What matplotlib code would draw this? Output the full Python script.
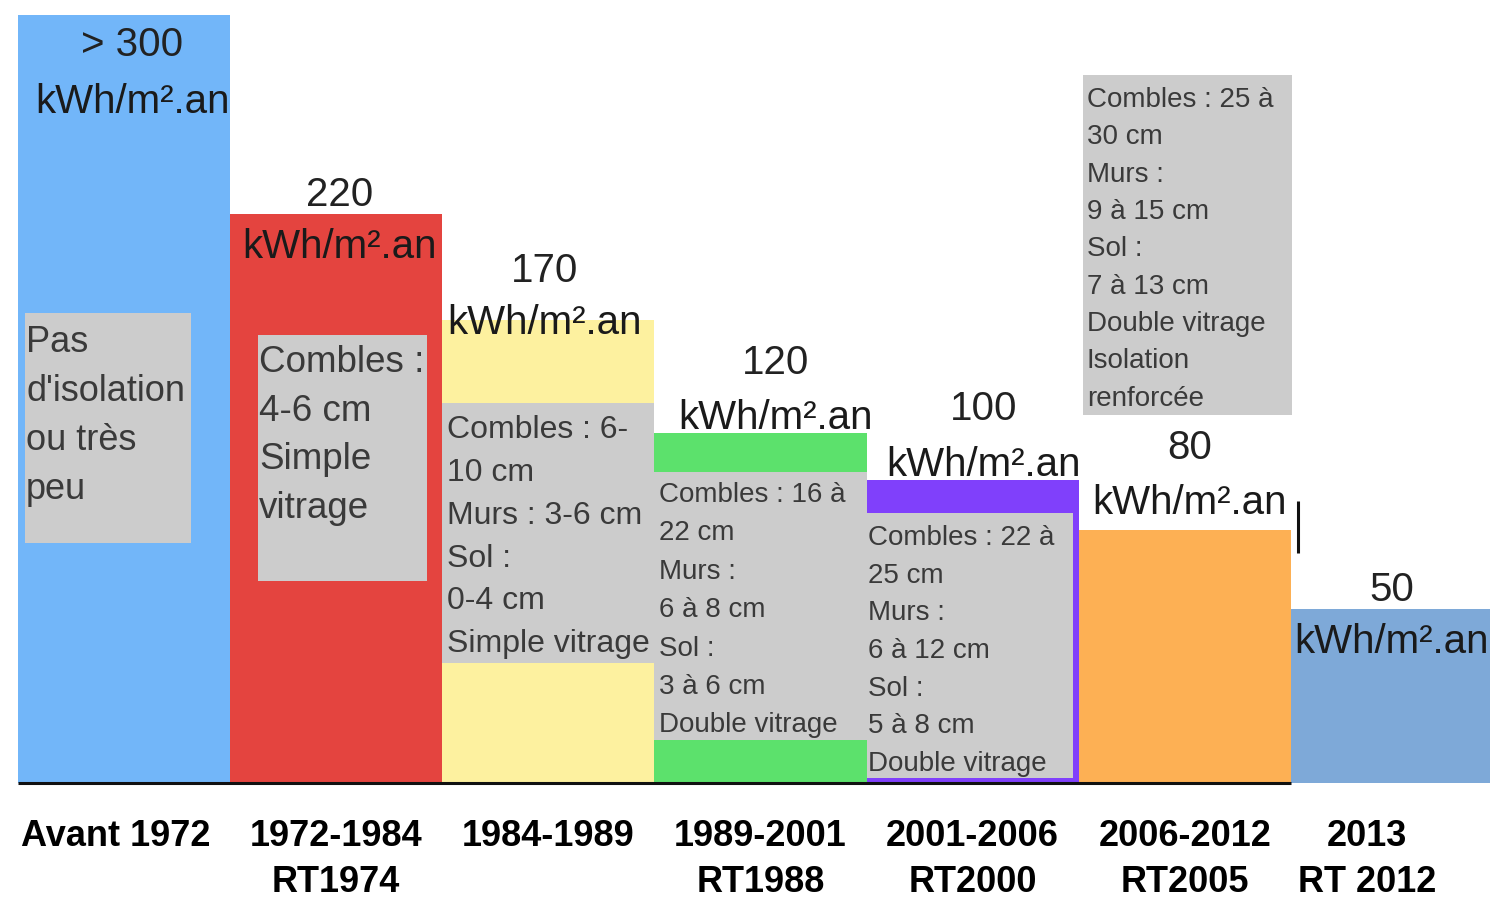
import numpy as np
import matplotlib
matplotlib.use("Agg")
import matplotlib.pyplot as plt
from matplotlib.patches import Rectangle
from matplotlib.transforms import ScaledTranslation

# consommation (kWh/m².an) par période de construction
periodes = ["Avant 1972", "1972-1984\nRT1974", "1984-1989", "1989-2001\nRT1988",
            "2001-2006\nRT2000", "2006-2012\nRT2005", "2013\nRT 2012"]
consommation = [320, 220, 170, 120, 100, 80, 50]
etiquettes = ["> 300", "220", "170", "120", "100", "80", "50"]
couleurs = ["#72b6f9", "#e4443f", "#fdf19f", "#5ce16c", "#8040fb", "#fdb054", "#7ea9d8"]

isolation = [
    ["Pas", "d'isolation", "ou très", "peu"],
    ["Combles :", "4-6 cm", "Simple", "vitrage"],
    ["Combles : 6-", "10 cm", "Murs : 3-6 cm", "Sol :", "0-4 cm", "Simple vitrage"],
    ["Combles : 16 à", "22 cm", "Murs :", "6 à 8 cm", "Sol :", "3 à 6 cm", "Double vitrage"],
    ["Combles : 22 à", "25 cm", "Murs :", "6 à 12 cm", "Sol :", "5 à 8 cm", "Double vitrage"],
    ["Combles : 25 à", "30 cm", "Murs :", "9 à 15 cm", "Sol :", "7 à 13 cm",
     "Double vitrage", "Isolation", "renforcée"],
]

plt.rcParams["font.family"] = ["Liberation Sans", "DejaVu Sans"]

gris = "#cccccc"
texte_gris = "#3a3a3a"

fig = plt.figure(figsize=(14.9, 9.02), dpi=100)
ax = fig.add_axes([18 / 1490, 119 / 902, 1485 / 1490, 768 / 902])

# échelle en puissance : les petites valeurs restent lisibles
ax.set_yscale("function", functions=(lambda v: np.power(np.clip(v, 0, None), 0.8),
                                     lambda v: np.power(np.clip(v, 0, None), 1.25)))
x = np.arange(len(periodes))
ax.bar(x, consommation, width=1.0, color=couleurs, edgecolor="none", zorder=1)
ax.set_xlim(-0.5, 6.5)
ax.set_ylim(0, 320)

# ligne de base sous les six premières barres
ax.hlines(0, -0.5, 5.5, color="#111111", lw=2.2, zorder=5, clip_on=False)

# valeurs au-dessus des barres (décalages en pixels)
dx = [8, 3, -4, 15, 11, 5, -5]
dy_val = [-41, 8, 38, 59, 60, 71, 8]
dy_unite = [-98, -44, -14, 4, 4, 16, -44]
for i, v in enumerate(consommation):
    ax.annotate(etiquettes[i], xy=(i, v), xytext=(dx[i], dy_val[i]), textcoords="offset pixels",
                ha="center", va="baseline", fontsize=29, color="#222222", zorder=6)
    ax.annotate("kWh/m².an", xy=(i, v), xytext=(dx[i], dy_unite[i]), textcoords="offset pixels",
                ha="center", va="baseline", fontsize=29, color="#1a1a1a", zorder=6)

trans = ax.get_xaxis_transform()


def boite(x0, x1, haut, bas, lignes, taille, xt, base, pas):
    ax.add_patch(Rectangle((x0, bas), x1 - x0, haut - bas, transform=trans,
                           facecolor=gris, edgecolor="none", zorder=3))
    for k, ligne in enumerate(lignes):
        ax.text(xt, base - k * pas, ligne, transform=trans, ha="left", va="baseline",
                fontsize=taille, color=texte_gris, zorder=4)


boite(-0.467, 0.315, 0.612, 0.3125, isolation[0], 26, -0.462, 0.561, 0.0638)
boite(0.631, 1.427, 0.583, 0.263, isolation[1], 26.5, 0.636, 0.535, 0.0632)
boite(1.5, 2.5, 0.495, 0.156, isolation[2], 23, 1.522, 0.449, 0.0557)
boite(2.5, 3.5, 0.405, 0.056, isolation[3], 20, 2.521, 0.366, 0.05)
boite(3.5, 4.472, 0.352, 0.0065, isolation[4], 20, 3.505, 0.310, 0.0491)
boite(4.519, 5.504, 0.922, 0.479, isolation[5], 20, 4.538, 0.880, 0.0486)

# curseur de saisie resté à droite de « kWh/m².an »
ax.vlines(5.533, 0.299, 0.367, transform=trans, color="#111111", lw=2.2, zorder=6)

ax.set_xticks(x)
ax.set_xticklabels(periodes, fontsize=26, fontweight="bold", linespacing=1.42)
ax.tick_params(axis="x", length=0, pad=26)
# la dernière étiquette est un peu décalée vers la gauche
for lab, dec in zip(ax.get_xticklabels(), [-0.08, 0, 0, 0, 0, 0, -0.3]):
    lab.set_transform(lab.get_transform() + ScaledTranslation(dec, 0, fig.dpi_scale_trans))
ax.set_yticks([])
ax.minorticks_off()
for s in ax.spines.values():
    s.set_visible(False)

fig.savefig("out.png", dpi=100, facecolor="white")
